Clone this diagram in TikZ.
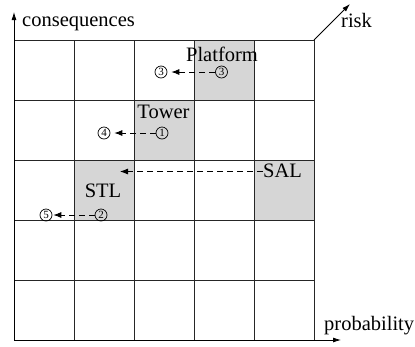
\documentclass[tikz,border=0pt]{standalone}
\usepackage{fontspec}
\setmainfont{Liberation Serif}
\usetikzlibrary{arrows.meta}
\begin{document}
\begin{tikzpicture}[x=1pt,y=-1pt,
  gridline/.style={line width=0.8pt,draw=black!85},
  hot/.style={fill=black!16},
  lbl/.style={inner sep=0pt,font=\fontsize{20.5}{24}\selectfont},
  num/.style={circle,draw,line width=0.7pt,inner sep=0pt,minimum size=12pt,
              font=\fontsize{11}{11}\selectfont},
  moveline/.style={dashed,dash pattern=on 6pt off 4pt,line width=0.8pt,
                -{Latex[length=8pt,width=6pt]}},
  axis/.style={line width=0.8pt,-{Latex[length=8pt,width=5pt]}}]
\useasboundingbox (0,0) rectangle (415,346);

% shaded cells
\fill[hot] (194,40) rectangle (254,100);
\fill[hot] (134,100) rectangle (194,160);
\fill[hot] (74,160) rectangle (134,220);
\fill[hot] (254,160) rectangle (314,220);

% 5x5 grid
\foreach \i in {0,...,5} {
  \draw[gridline] (14+60*\i,40) -- (14+60*\i,340);
  \draw[gridline] (14,40+60*\i) -- (314,40+60*\i);
}

% axes
\coordinate (o) at (14,340);
\coordinate (ytip) at (14,12);
\coordinate (xtip) at (341,340);
\coordinate (corner) at (314,40);
\coordinate (rtip) at (350,4);
\draw[axis] (o) -- (ytip);
\draw[axis] (o) -- (xtip);
\draw[axis] (corner) -- (rtip);

\node[lbl,anchor=base west] (cons) at (22,26) {consequences};
\node[lbl,anchor=base west] (risk) at (341,27) {risk};
\node[lbl,anchor=base west] (prob) at (324,330) {probability};

% assets
\node[lbl,anchor=base] (plat) at (222,61) {Platform};
\node[lbl,anchor=base] (tower) at (163.5,118) {Tower};
\node[lbl,anchor=base west] (sal) at (263,177) {SAL};
\node[lbl,anchor=base] (stl) at (103,197) {STL};

% risk reduction steps
\node[num] (p3) at (221.5,72) {3};
\node[num] (p3n) at (161,72) {3};
\node[num] (t1) at (162,133) {1};
\node[num] (t4) at (104,133) {4};
\node[num] (s2) at (101,215) {2};
\node[num] (s5) at (46,215) {5};
\coordinate (salend) at (120,171.5);

\draw[moveline,shorten >=4pt] (p3) -- (p3n);
\draw[moveline,shorten >=4pt] (t1) -- (t4);
\draw[moveline,shorten >=1pt] (s2) -- (s5);
\draw[moveline] (sal.west|-salend) -- (salend);
\end{tikzpicture}
\end{document}
